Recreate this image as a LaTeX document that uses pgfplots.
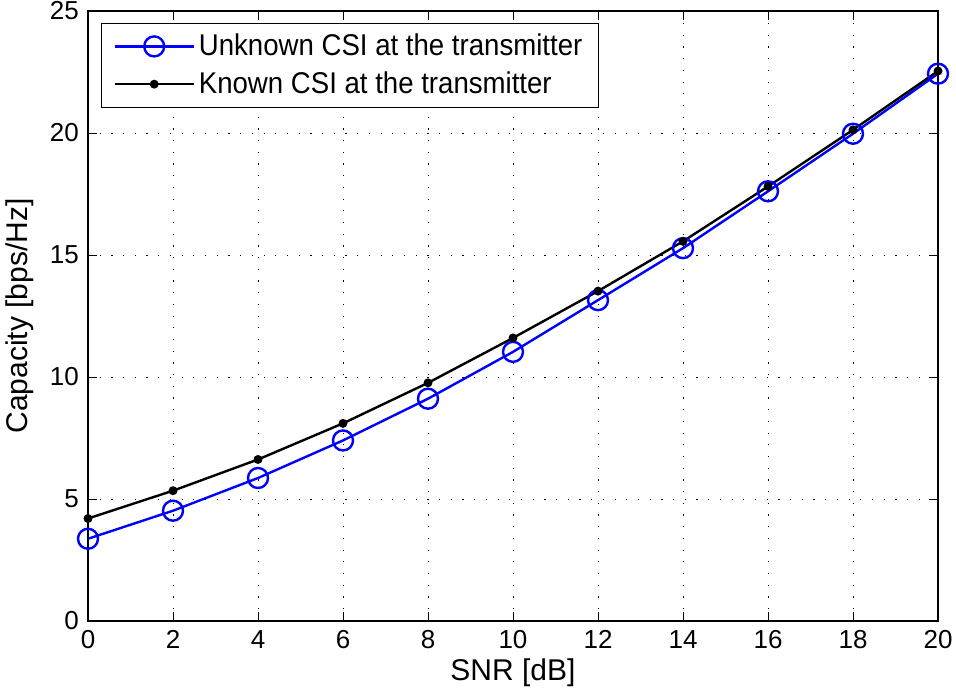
\documentclass[border=0pt]{standalone}
\usepackage{fontspec}
\setmainfont{Liberation Sans}
\newfontfamily\legfont[FakeStretch=0.92]{Liberation Sans}
\usepackage{pgfplots}
\pgfplotsset{compat=1.18}
\begin{document}
\fontsize{27}{32}\selectfont
\begin{tikzpicture}
\begin{axis}[
  scale only axis,
  width=850pt, height=610pt,
  xmin=0, xmax=20, ymin=0, ymax=25,
  xtick={0,2,...,20}, ytick={0,5,...,25},
  /pgf/number format/assume math mode=true,
  ticklabel style={font=\fontsize{26}{31}\selectfont},
  label style={font=\fontsize{30}{36}\selectfont},
  xlabel={SNR [dB]}, ylabel={Capacity [bps/Hz]},
  xlabel style={yshift=8pt},
  ylabel style={yshift=-2pt},
  tick align=inside, major tick length=9pt,
  tick style={black, line width=0.8pt},
  axis line style={line width=1.2pt},
  grid=major,
  major grid style={black, line width=0.9pt, dash pattern=on 1.2pt off 10.5pt},
  legend cell align=left,
  legend style={at={(rel axis cs:0,1)}, anchor=north west, xshift=13pt, yshift=-12pt,
    draw=black, line width=1pt, fill=white, font=\legfont\fontsize{30}{36}\selectfont,
    inner xsep=12pt, inner ysep=9pt, row sep=10pt,
    nodes={inner xsep=4pt, inner ysep=1pt}},
  legend image code/.code={\draw[#1] (0pt,0pt) -- (79pt,0pt); \draw[#1, only marks] plot coordinates {(39.5pt,0pt)};},
]
\addplot[blue, line width=2.4pt, mark=o, mark size=10pt, mark options={line width=2.4pt}] coordinates {
(0,3.37) (2,4.52) (4,5.86) (6,7.40) (8,9.11) (10,11.03) (12,13.15) (14,15.28) (16,17.61) (18,19.97) (20,22.43)};
\addlegendentry{Unknown CSI at the transmitter}
\addplot[black, line width=2.4pt, mark=*, mark size=3.2pt] coordinates {
(0,4.20) (2,5.34) (4,6.62) (6,8.10) (8,9.76) (10,11.60) (12,13.52) (14,15.56) (16,17.81) (18,20.13) (20,22.54)};
\addlegendentry{Known CSI at the transmitter}
\end{axis}
\pgfresetboundingbox
\path ([xshift=-88pt,yshift=-75pt]current axis.south west) rectangle ([xshift=18pt,yshift=11pt]current axis.north east);
\end{tikzpicture}
\end{document}
